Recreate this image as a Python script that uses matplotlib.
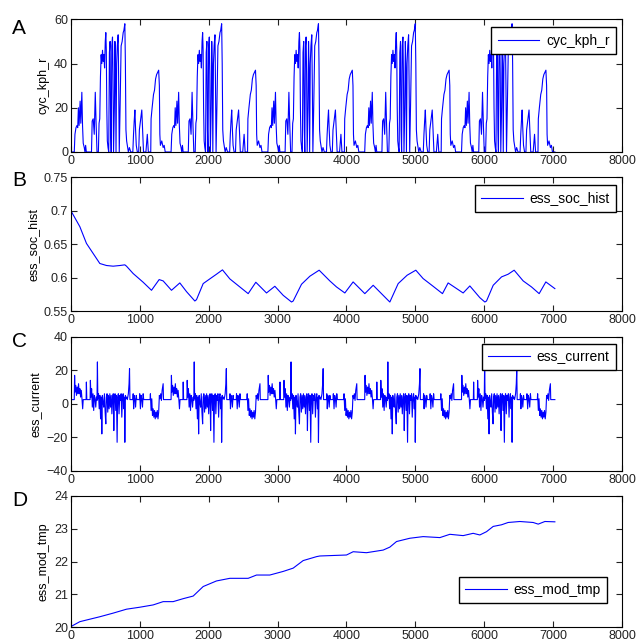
import matplotlib
matplotlib.use('Agg')
import matplotlib.pyplot as plt
import numpy as np

plt.rcParams.update({'font.family': ['Liberation Sans', 'DejaVu Sans']})
plt.rcParams.update({'font.size': 9})

# one drive cycle (s, km/h), repeated back to back
cycle_t = [0, 50, 60, 75, 90, 100, 110, 120, 135, 145, 160, 170, 180, 195, 205, 215, 225,
           300, 310, 325, 340, 355, 365, 380, 400, 410, 420, 430, 440, 450, 460, 470, 480,
           490, 500, 508, 515, 522, 530, 540, 550, 560, 570, 578, 586, 595, 605, 612, 620,
           632, 640, 648, 656, 665, 675, 687, 695, 703, 715, 730, 745, 760, 770, 784, 792,
           800, 810, 820, 835, 850, 870, 900, 910, 920, 930, 940, 950, 965, 985, 995, 1010,
           1030, 1045, 1055, 1090, 1110, 1125, 1160, 1165, 1180, 1200, 1215, 1230, 1245,
           1260, 1275, 1285, 1292, 1300, 1320, 1340, 1355, 1370, 1405]
cycle_kph = [0, 0, 8, 11, 12, 11, 20, 12, 23, 13, 27, 12, 4, 2, 0, 3, 0,
             0, 14, 15, 8, 27, 15, 0, 0, 13, 15, 34, 44, 40, 46, 41, 44,
             38, 50, 54, 46, 20, 5, 2, 0, 45, 50, 10, 0, 48, 52, 35, 0,
             20, 50, 38, 0, 40, 48, 53, 30, 0, 20, 48, 50, 54, 55, 58, 40,
             10, 5, 3, 0, 2, 0, 0, 8, 14, 19, 10, 3, 0, 0, 10, 14,
             19, 8, 0, 0, 8, 0, 0, 15, 20, 26, 28, 33, 35,
             36, 37, 30, 8, 3, 5, 2, 3, 0, 0]

# battery current over one cycle (s, A)
cur_t = [0, 50, 55, 62, 72, 82, 92, 102, 112, 122, 132, 142, 152, 162, 172, 180, 222, 226,
         232, 280, 284, 292, 302, 312, 322, 332, 342, 352, 362, 372, 380, 386, 392, 402,
         412, 422, 432, 442, 450, 458, 468, 478, 488, 498, 508, 516, 526, 536, 546, 556,
         566, 576, 586, 596, 606, 616, 624, 632, 642, 652, 662, 672, 680, 690, 700, 710,
         720, 730, 740, 750, 760, 770, 778, 784, 792, 800, 810, 820, 835, 845, 852, 858,
         900, 905, 912, 920, 930, 940, 950, 958, 995, 1000, 1010, 1020, 1030, 1040, 1050,
         1058, 1150, 1155, 1165, 1175, 1185, 1195, 1205, 1215, 1225, 1235, 1245, 1255,
         1265, 1275, 1285, 1295, 1305, 1315, 1325, 1340, 1345, 1405]
cur_a = [2.5, 2.5, 17, 7, 11, 5, 10, 6, 12, 6, 9, 4, 8, 3, -3, 2.5, 2.5, 13,
         2.5, 2.5, 14, 4, 9, -2, 6, -4, 5, 3, -2, 4, 2, 25, 3, 6,
         -3, 5, -9, 4, -18, 5, 1, -2, 6, -5, -12, 4, 6, -5, 5, -3,
         6, -2, 5, -6, 4, 6, -16, 4, 6, -4, 5, -23, 4, 6, -6, 5,
         2, 6, -8, 4, 6, -3, 4, -23, 5, 3, 4, 2.5, 6, 12, 21, 2.5,
         2.5, 6, -3, 5, 3, -2, 5, 2.5, 2.5, 6, -3, 5, 3, -2, 6,
         2.5, 2.5, 6, -4, 3, -7, -3, -8, -4, -9, -5, -8, -4,
         -9, -5, 5, 3, 6, 2, 8, 12, 2.5, 2.5]

cycle_starts = [0, 1405, 2810, 4215, 5620]

soc_t = [0, 131, 227, 324, 421, 518, 614, 711, 784, 808, 905, 1050, 1171, 1282, 1340,
         1461, 1582, 1679, 1800, 1824, 1921, 2017, 2114, 2201, 2308, 2453, 2574, 2685,
         2840, 2961, 3082, 3203, 3227, 3348, 3469, 3604, 3759, 3856, 3977, 4097, 4267,
         4388, 4605, 4630, 4751, 4881, 5007, 5113, 5258, 5394, 5476, 5694, 5791, 5936,
         6009, 6033, 6130, 6251, 6347, 6434, 6565, 6686, 6797, 6894, 7025]
soc = [0.700, 0.676, 0.651, 0.636, 0.621, 0.618, 0.617, 0.618, 0.619, 0.617, 0.606,
       0.593, 0.581, 0.597, 0.595, 0.581, 0.592, 0.579, 0.565, 0.567, 0.591, 0.598,
       0.605, 0.6115, 0.598, 0.586, 0.576, 0.593, 0.577, 0.587, 0.5735, 0.5635, 0.565,
       0.590, 0.602, 0.611, 0.595, 0.586, 0.577, 0.5935, 0.576, 0.5885, 0.566, 0.5635,
       0.591, 0.6035, 0.611, 0.5985, 0.587, 0.576, 0.592, 0.577, 0.5875, 0.570, 0.5635,
       0.565, 0.5885, 0.601, 0.605, 0.611, 0.595, 0.586, 0.576, 0.5935, 0.5835]

tmp_t = [0, 131, 227, 421, 614, 808, 1001, 1195, 1340, 1485, 1630, 1776, 1921, 2114,
         2308, 2574, 2695, 2888, 3082, 3227, 3372, 3566, 3614, 4001, 4098, 4291, 4533,
         4630, 4727, 4920, 5113, 5356, 5501, 5694, 5839, 5936, 6033, 6130, 6251, 6347,
         6517, 6710, 6783, 6880, 7025]
tmp = [20.02, 20.17, 20.22, 20.32, 20.43, 20.55, 20.61, 20.68, 20.78, 20.78, 20.87,
       20.95, 21.24, 21.41, 21.49, 21.49, 21.59, 21.59, 21.70, 21.80, 22.03, 22.15,
       22.17, 22.20, 22.30, 22.27, 22.35, 22.44, 22.61, 22.71, 22.76, 22.73, 22.83,
       22.79, 22.86, 22.81, 22.91, 23.07, 23.12, 23.19, 23.22, 23.19, 23.14, 23.22, 23.21]


def repeat_cycle(t, v):
    tt, vv = [], []
    for s in cycle_starts:
        tt += [s + x for x in t]
        vv += v
    return tt, vv


kph_t, kph = repeat_cycle(cycle_t, cycle_kph)
cur_tt, cur = repeat_cycle(cur_t, cur_a)

fig = plt.figure(figsize=(6.38, 6.44), dpi=100)
left, width = 0.111, 0.864
boxes = [(0.764, 0.206), (0.517, 0.208), (0.269, 0.208), (0.026, 0.204)]
letter_y = [28, 180, 342, 500]  # pixels from top
panels = [
    ('A', kph_t, kph, 'cyc_kph_r', (0, 60), [0, 20, 40, 60], ('upper right', (0.989, 0.94))),
    ('B', soc_t, soc, 'ess_soc_hist', (0.55, 0.75), [0.55, 0.6, 0.65, 0.7, 0.75],
     ('upper right', (0.989, 0.94))),
    ('C', cur_tt, cur, 'ess_current', (-40, 40), [-40, -20, 0, 20, 40],
     ('upper right', (0.989, 0.948))),
    ('D', tmp_t, tmp, 'ess_mod_tmp', (20, 24), [20, 21, 22, 23, 24],
     ('lower right', (0.973, 0.183))),
]
ytl = {'B': ['0.55', '0.6', '0.65', '0.7', '0.75']}

for (bottom, height), ly, (letter, x, y, name, ylim, yticks, (loc, anchor)) in zip(boxes, letter_y, panels):
    ax = fig.add_axes([left, bottom, width, height])
    ax.plot(x, y, color='#0000ff', linewidth=0.8, label=name)
    ax.set_xlim(0, 8000)
    ax.set_ylim(*ylim)
    ax.set_xticks(range(0, 8001, 1000))
    ax.set_yticks(yticks)
    if letter in ytl:
        ax.set_yticklabels(ytl[letter])
    ax.tick_params(direction='in', top=True, right=True, length=4, labelsize=9,
                   colors='#222222', pad=2)
    ax.set_ylabel(name, fontsize=9, labelpad=3)
    for sp in ax.spines.values():
        sp.set_linewidth(0.8)
    ax.legend(loc=loc, bbox_to_anchor=anchor, fancybox=False, edgecolor='black',
              framealpha=1, handlelength=3.0, fontsize=10, borderaxespad=0,
              borderpad=0.45, handletextpad=0.5)
    fig.text(0.019, 1 - ly / 644, letter, fontsize=15, va='center')

fig.savefig('out.png', dpi=100)
